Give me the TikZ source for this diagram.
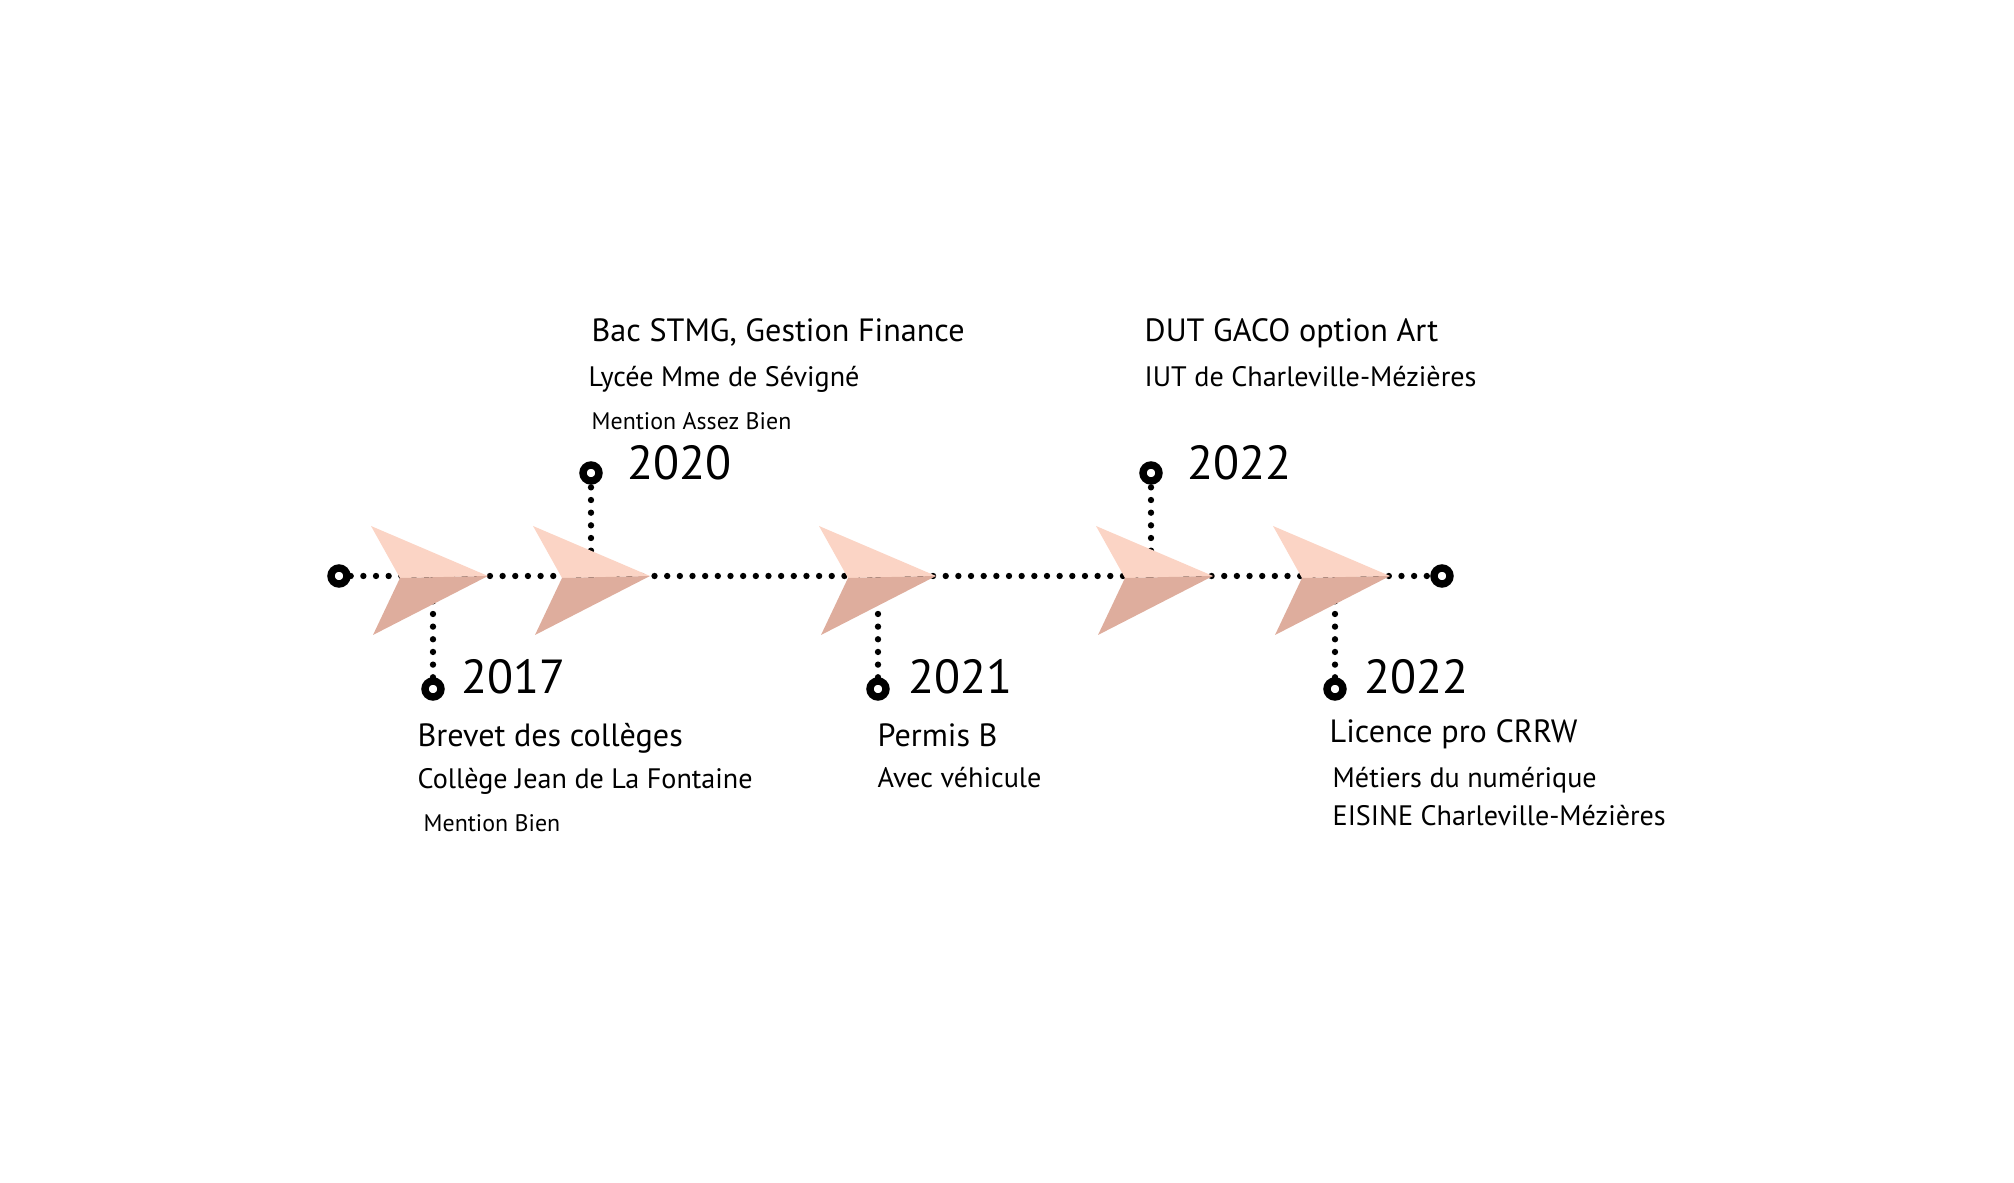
\documentclass[tikz,border=0pt]{standalone}
\usepackage{fontspec}
\setmainfont{PT Sans}
\usepackage{tikz}
\definecolor{peachlight}{RGB}{251,212,197}
\definecolor{peachdark}{RGB}{222,173,157}
\tikzset{
  ring/.style={circle,draw=black,fill=white,line width=2.1pt,inner sep=0pt,minimum size=0.16cm},
  dotline/.style={draw=black,line width=1.8pt,line cap=round,dash pattern=on 0pt off 3.6pt},
  year/.style={anchor=base west,inner sep=0pt,font=\fontsize{13.6}{16}\selectfont},
  degree/.style={anchor=base west,inner sep=0pt,font=\fontsize{9.15}{11}\selectfont},
  school/.style={anchor=base west,inner sep=0pt,font=\fontsize{8}{10}\selectfont},
  mention/.style={anchor=base west,inner sep=0pt,font=\fontsize{6.8}{8}\selectfont}
}

\begin{document}
\begin{tikzpicture}[x=0.01cm,y=-0.01cm]
           \useasboundingbox (0,0) rectangle (2014,1183);
           % timeline ends and milestone rings
           \node[ring] (start) at (339,576) {};
           \node[ring] (end) at (1442,576) {};
           \node[ring] (c2017) at (433,689) {};
           \node[ring] (c2020) at (591,473) {};
           \node[ring] (c2021) at (878,689) {};
           \node[ring] (c2022a) at (1151,473) {};
           \node[ring] (c2022b) at (1335,689) {};
           \coordinate (t2017) at (433,576);
           \coordinate (t2020) at (591,576);
           \coordinate (t2021) at (878,576);
           \coordinate (t2022a) at (1151,576);
           \coordinate (t2022b) at (1335,576);
           \draw[dotline] (start) -- (end);
           \draw[dotline] (t2017) -- (c2017);
           \draw[dotline] (t2020) -- (c2020);
           \draw[dotline] (t2021) -- (c2021);
           \draw[dotline] (t2022a) -- (c2022a);
           \draw[dotline] (t2022b) -- (c2022b);
           % arrows
           \fill[peachlight] (371,526) -- (488,576) -- (400,578) -- cycle;
           \fill[peachdark] (400,578) -- (488,576) -- (373,635) -- cycle;
           \fill[peachlight] (533,526) -- (650,576) -- (562,578) -- cycle;
           \fill[peachdark] (562,578) -- (650,576) -- (535,635) -- cycle;
           \fill[peachlight] (819,526) -- (936,576) -- (848,578) -- cycle;
           \fill[peachdark] (848,578) -- (936,576) -- (821,635) -- cycle;
           \fill[peachlight] (1096,526) -- (1213,576) -- (1125,578) -- cycle;
           \fill[peachdark] (1125,578) -- (1213,576) -- (1098,635) -- cycle;
           \fill[peachlight] (1273,526) -- (1390,576) -- (1302,578) -- cycle;
           \fill[peachdark] (1302,578) -- (1390,576) -- (1275,635) -- cycle;
           % texts
           \node[year] (y2017) at (461,694) {2017};
           \node[degree] (d2017) at (417,747) {Brevet des collèges};
           \node[school] (s2017) at (417,789) {Collège Jean de La Fontaine};
           \node[mention] (m2017) at (423,832) {Mention Bien};
           \node[year] (y2020) at (627,480) {2020};
           \node[degree] (d2020) at (591,342) {Bac STMG, Gestion Finance};
           \node[school] (s2020) at (588,387) {Lycée Mme de Sévigné};
           \node[mention] (m2020) at (591,430) {Mention Assez Bien};
           \node[year] (y2021) at (908,694) {2021};
           \node[degree] (d2021) at (877,747) {Permis B};
           \node[school] (s2021) at (877,788) {Avec véhicule};
           \node[year] (y2022a) at (1187,480) {2022};
           \node[degree] (d2022a) at (1144,342) {DUT GACO option Art};
           \node[school] (s2022a) at (1144,387) {IUT de Charleville-Mézières};
           \node[year] (y2022b) at (1364,694) {2022};
           \node[degree] (d2022b) at (1329,743) {Licence pro CRRW};
           \node[school] (s2022b) at (1332,788) {Métiers du numérique};
           \node[school] (e2022b) at (1332,826) {EISINE Charleville-Mézières};
        \end{tikzpicture}
\end{document}
